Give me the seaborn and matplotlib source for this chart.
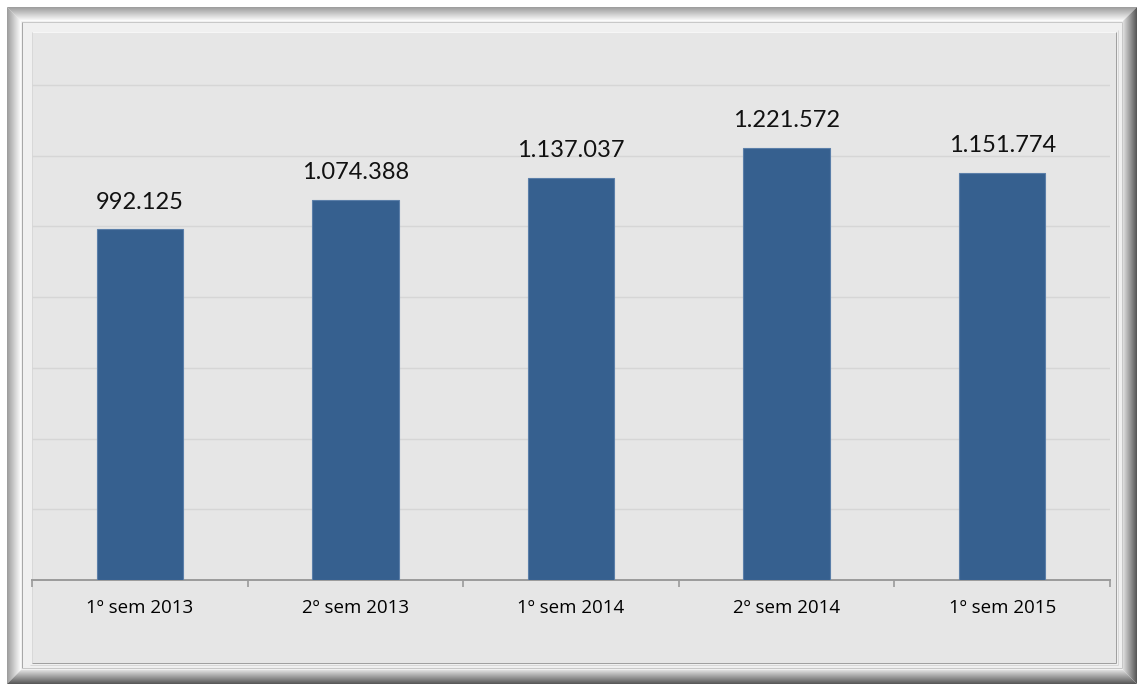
import matplotlib
matplotlib.use("Agg")
import matplotlib.pyplot as plt
import seaborn as sns
import pandas as pd
import numpy as np
from matplotlib.lines import Line2D
from matplotlib.patches import Rectangle

# Semesters and totals
periods = ["1º sem 2013", "2º sem 2013", "1º sem 2014", "2º sem 2014", "1º sem 2015"]
totals = [992125, 1074388, 1137037, 1221572, 1151774]

sns.set_theme(style="white")
plt.rcParams["font.family"] = ["Lato", "DejaVu Sans"]

W, H = 1137, 684
fig = plt.figure(figsize=(W / 100, H / 100), dpi=100)
fig.patch.set_facecolor("white")


def px_rect(x0, y0, x1, y1, **kw):
    """Rectangle given in pixel coordinates measured from the top-left corner."""
    r = Rectangle((x0 / W, 1 - y1 / H), (x1 - x0) / W, (y1 - y0) / H,
                  transform=fig.transFigure, zorder=-2, **kw)
    fig.add_artist(r)


def px_line(x0, y0, x1, y1, color, lw=1.0):
    ln = Line2D([x0 / W, x1 / W], [1 - y0 / H, 1 - y1 / H], transform=fig.transFigure,
                color=color, lw=lw * 0.72, solid_capstyle="butt", zorder=-1)
    fig.add_artist(ln)


# Outer bevelled frame
px_rect(7, 7, 1137, 684, facecolor="#f0f0f0", edgecolor="none")
steps = 14
for i in range(steps):
    t = i / (steps - 1)
    light = np.array([0.62, 0.62, 0.62]) * (1 - t) + np.array([0.98, 0.98, 0.98]) * t
    dark = np.array([0.35, 0.35, 0.35]) * (1 - t) + np.array([0.86, 0.86, 0.86]) * t
    x0, y0, x1, y1 = 7 + i, 7 + i, 1136 - i, 683 - i
    px_line(x0, y0, x1, y0, light)
    px_line(x0, y0, x0, y1, light)
    px_line(x0, y1, x1, y1, dark)
    px_line(x1, y0, x1, y1, dark)
# inner groove of the frame
px_line(22, 22, 1122, 22, "#c8c8c8")
px_line(22, 22, 22, 668, "#a8a8a8")
px_line(22, 668, 1122, 668, "#c8c8c8")
px_line(1122, 22, 1122, 668, "#c8c8c8")

# Chart panel
px_rect(32, 32, 1116, 663, facecolor="#e6e6e6", edgecolor="none")
px_line(32, 32, 1116, 32, "#f6f6f6")
px_line(32, 32, 32, 663, "#d8d8d8")
px_line(32, 663, 1116, 663, "#a0a0a0")
px_line(1116, 32, 1116, 663, "#a0a0a0")
px_line(30, 665, 1118, 665, "#d8d8d8")
px_line(1118, 30, 1118, 665, "#d8d8d8")

# Plot area
left, right, top, axis_y = 32, 1110, 32, 580
ax = fig.add_axes([left / W, 1 - axis_y / H, (right - left) / W, (axis_y - top) / H])
ax.set_facecolor("none")
ax.set_zorder(5)

df = pd.DataFrame({"periodo": periods, "total": totals})
sns.barplot(data=df, x="periodo", y="total", color="#36608f", width=0.4,
            edgecolor="#5b7fa9", linewidth=0.8, saturation=1, ax=ax, zorder=3)

ax.set_xlim(-0.5, len(periods) - 0.5)
ax.set_ylim(0, 1550000)
ax.set_yticks(np.arange(200000, 1500000, 200000))
ax.yaxis.grid(True, color="#d6d6d6", lw=1.0)
ax.set_axisbelow(True)
ax.tick_params(axis="y", left=False, labelleft=False)

for s in ["top", "right", "left"]:
    ax.spines[s].set_visible(False)
ax.spines["bottom"].set_color("#9a9a9a")
ax.spines["bottom"].set_linewidth(1.4)

ax.set_xticks(range(len(periods)))
ax.set_xticklabels(periods, fontsize=13.5, color="#000000",
                   fontfamily=["Open Sans", "DejaVu Sans"])
ax.tick_params(axis="x", which="major", bottom=True, length=0, pad=14)
ax.set_xticks(np.arange(-0.5, len(periods), 1.0), minor=True)
ax.tick_params(axis="x", which="minor", bottom=True, length=5, width=1.2,
               color="#9a9a9a", direction="out")
ax.set_xlabel("")
ax.set_ylabel("")

for i, v in enumerate(totals):
    label = f"{v:,}".replace(",", ".")
    ax.annotate(label, (i, v), xytext=(0, 12), textcoords="offset points",
                ha="center", va="bottom", fontsize=17, color="#111111")

fig.savefig("out.png", dpi=100, facecolor=fig.get_facecolor())
